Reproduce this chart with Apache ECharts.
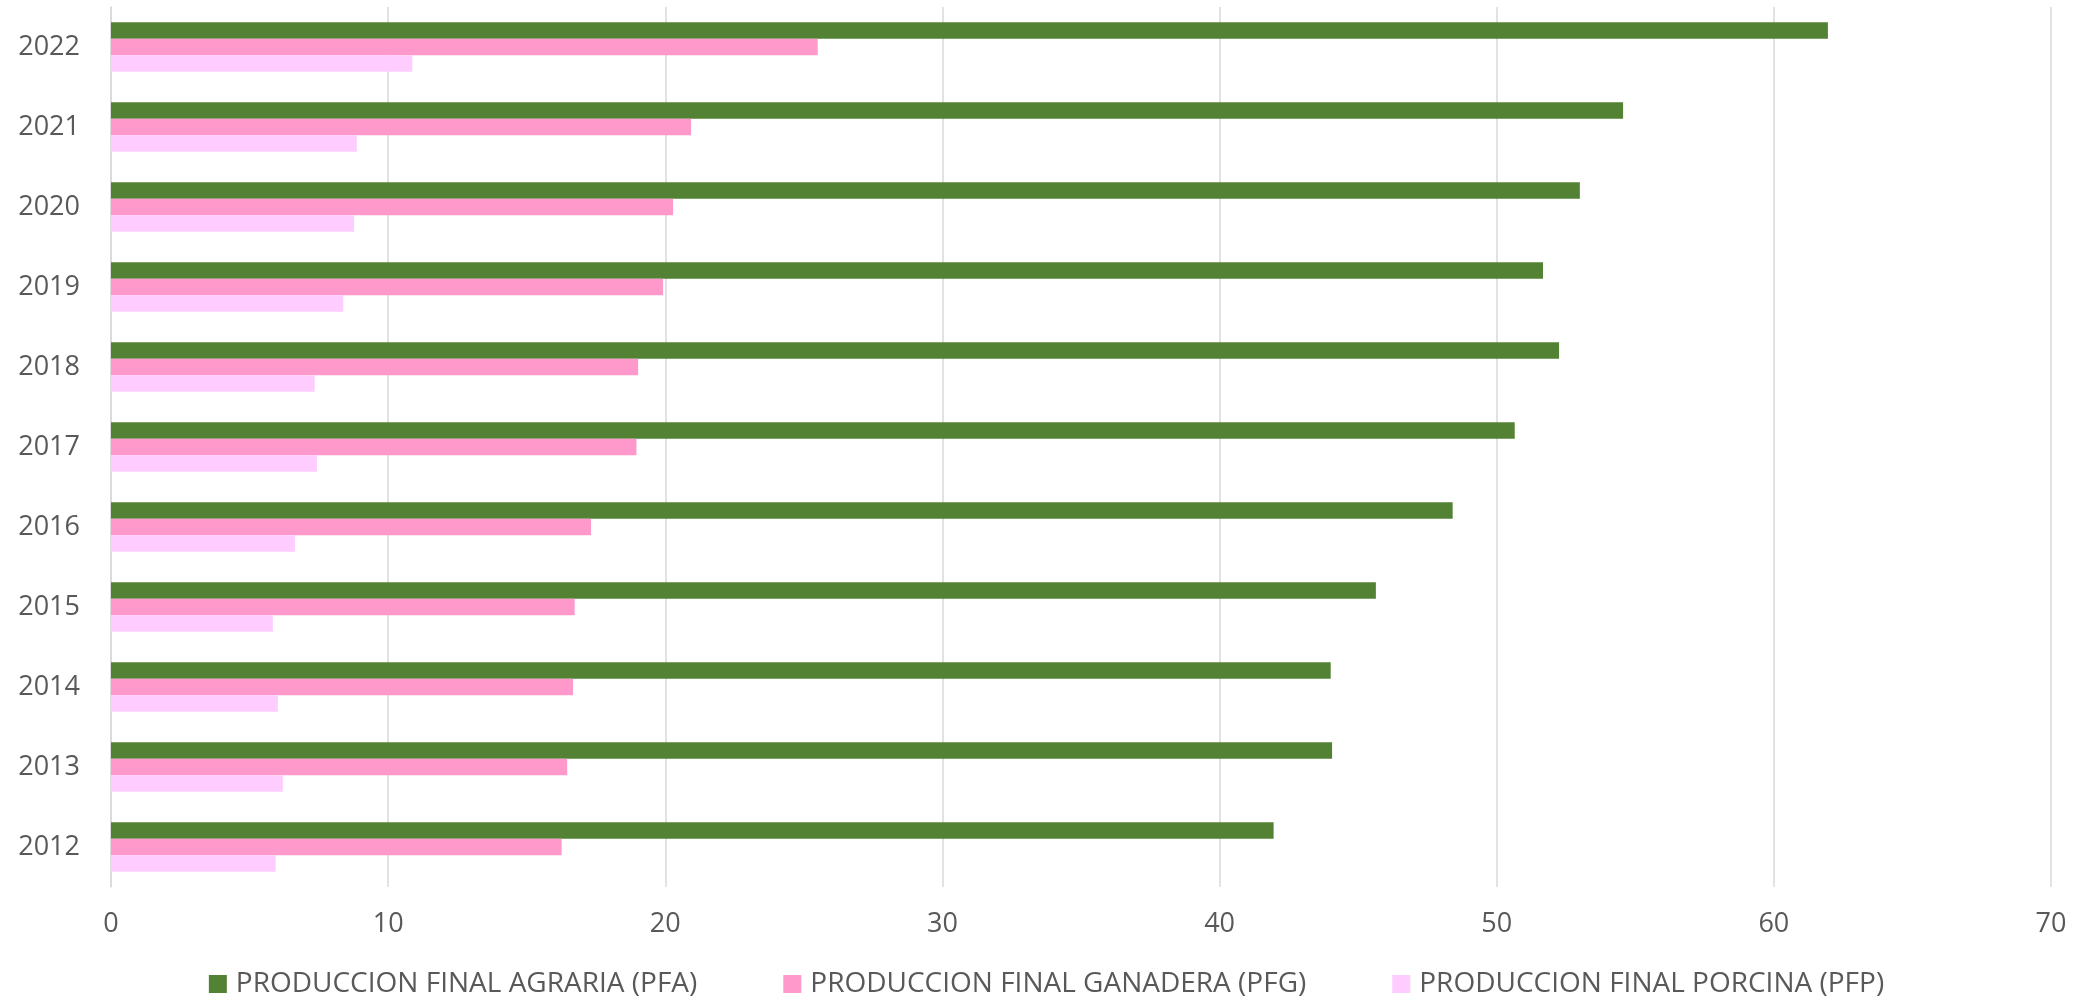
<!DOCTYPE html>
<html>
<head>
<meta charset="utf-8">
<script src="https://cdn.jsdelivr.net/npm/echarts@6/dist/echarts.min.js"></script>
<style>
html,body{margin:0;padding:0;background:#fff;}
#chart{width:2093px;height:1004px;}
</style>
</head>
<body>
<div id="chart"></div>
<script>
const years = ['2012','2013','2014','2015','2016','2017','2018','2019','2020','2021','2022'];
const pfa = [41.95, 44.06, 44.01, 45.64, 48.41, 50.65, 52.25, 51.67, 53.00, 54.56, 61.95];
const pfg = [16.26, 16.46, 16.67, 16.73, 17.32, 18.96, 19.02, 19.92, 20.28, 20.93, 25.50];
const pfp = [5.94, 6.20, 6.02, 5.84, 6.64, 7.43, 7.35, 8.38, 8.77, 8.87, 10.87];
const seriesNames = ['PRODUCCION FINAL AGRARIA (PFA)', 'PRODUCCION FINAL GANADERA (PFG)', 'PRODUCCION FINAL PORCINA (PFP)'];
const xTicks = {min: 0, max: 70, interval: 10};

const colors = ['#548235', '#FF99CC', '#FFCCFF'];
const font = '"Open Sans", sans-serif';
const chart = echarts.init(document.getElementById('chart'));
chart.setOption({
  animation: false,
  color: colors,
  grid: {left: 111, right: 42, top: 7, bottom: 117, containLabel: false},
  legend: {
    bottom: 1, left: 'center',
    itemWidth: 18, itemHeight: 18, itemGap: 86,
    icon: 'rect',
    textStyle: {fontFamily: font, fontSize: 28, color: '#595959', padding: [0,0,0,4]},
    data: seriesNames
  },
  xAxis: {
    type: 'value', min: xTicks.min, max: xTicks.max, interval: xTicks.interval,
    axisLine: {show: false}, axisTick: {show: false},
    splitLine: {show: true, lineStyle: {color: '#D9D9D9', width: 1.5}},
    axisLabel: {fontFamily: font, fontSize: 27, color: '#595959', margin: 24}
  },
  yAxis: {
    type: 'category', data: years,
    axisLine: {show: true, lineStyle: {color: '#D9D9D9', width: 1.5}},
    axisTick: {show: false},
    axisLabel: {fontFamily: font, fontSize: 27, color: '#595959', margin: 31}
  },
  series: [
    {name: seriesNames[0], type: 'bar', data: pfa, barWidth: 16.5, barGap: '0%'},
    {name: seriesNames[1], type: 'bar', data: pfg, barWidth: 16.5, barGap: '0%'},
    {name: seriesNames[2], type: 'bar', data: pfp, barWidth: 16.5, barGap: '0%'}
  ]
});
</script>
</body>
</html>
